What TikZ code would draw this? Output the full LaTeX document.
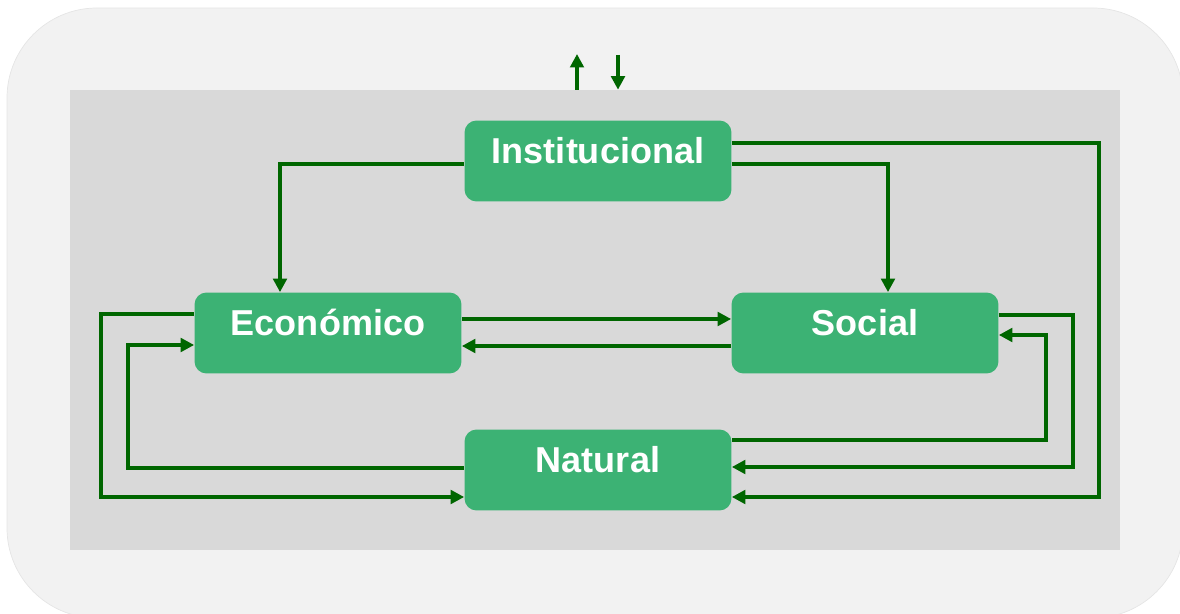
\documentclass[tikz,border=0pt]{standalone}
\usepackage{fontspec}
\setmainfont{Liberation Sans}
\usetikzlibrary{arrows.meta}
\definecolor{boxgreen}{RGB}{60,178,116}
\definecolor{linegreen}{RGB}{0,102,0}
\definecolor{panelgray}{RGB}{217,217,217}
\definecolor{outergray}{RGB}{242,242,242}
\begin{document}
\begin{tikzpicture}[x=0.02cm, y=-0.02cm, line join=miter,
	block/.style={fill=boxgreen, rounded corners=0.24cm, minimum width=5.34cm, inner sep=0pt, text height=0.86cm, text depth=0.76cm, text=white, font=\bfseries\fontsize{20.5}{24}\selectfont},
	flow/.style={draw=linegreen, line width=0.07cm, -{Triangle[length=0.27cm, width=0.27cm]}}]
	\useasboundingbox (0,0) rectangle (1180,614);
	\fill[outergray, draw=black!10, line width=0.4pt, rounded corners=1.8cm] (7,8) rectangle (1183,618);
	\node[fill=panelgray, minimum width=21cm, minimum height=9.2cm, inner sep=0pt] (area) at (595,320) {};
	\node[block] (inst) at (598,161) {Institucional};
	\node[block] (econ) at (328,333) {Económico};
	\node[block] (soc) at (865,333) {Social};
	\node[block] (nat) at (598,470) {Natural};
	\coordinate (outA) at (577,54);
	\coordinate (inB) at (618,55);
	\draw[flow] (area.north -| outA) -- (outA);
	\draw[flow] (inB) -- (area.north -| inB);
	\draw[flow] (inst.west |- 0,164) -| (econ.north -| 280,0);
	\draw[flow] (inst.east |- 0,164) -| (soc.north -| 888,0);
	\draw[flow] (inst.east |- 0,143) -| (1099,497) -- (nat.east |- 0,497);
	\draw[flow] (econ.east |- 0,319) -- (soc.west |- 0,319);
	\draw[flow] (soc.west |- 0,346) -- (econ.east |- 0,346);
	\draw[flow] (econ.west |- 0,314) -| (101,497) -- (nat.west |- 0,497);
	\draw[flow] (nat.west |- 0,468) -| (128,345) -- (econ.west |- 0,345);
	\draw[flow] (soc.east |- 0,315) -| (1073,467) -- (nat.east |- 0,467);
	\draw[flow] (nat.east |- 0,440) -| (1046,335) -- (soc.east |- 0,335);
\end{tikzpicture}
\end{document}
